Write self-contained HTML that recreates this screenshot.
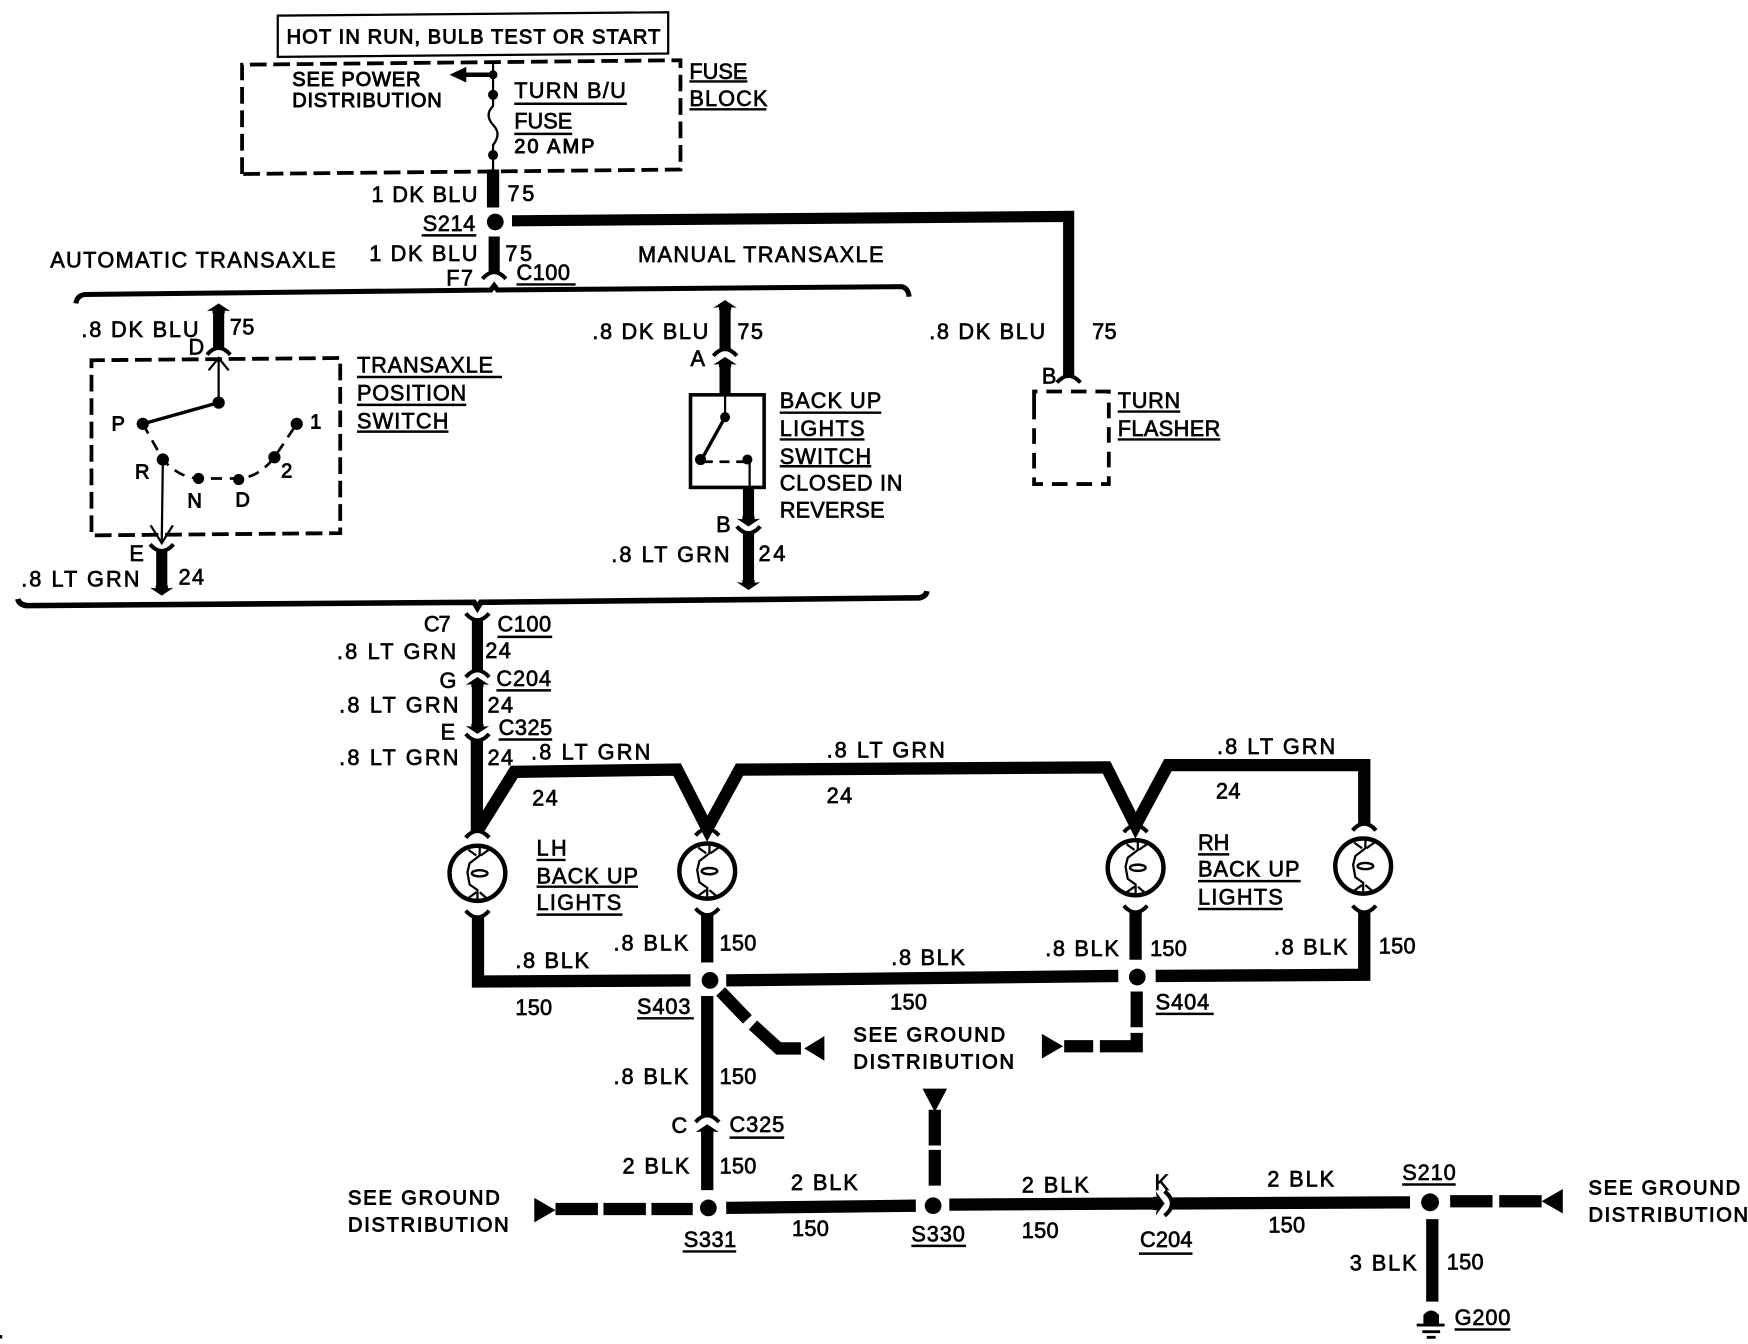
<!DOCTYPE html>
<html><head><meta charset="utf-8"><style>
html,body{margin:0;padding:0;background:#fff}
svg{display:block}
text{font-family:"Liberation Sans",sans-serif;font-size:19.5px;fill:#000;stroke:#000;stroke-width:.6px}
.s text,text.s{font-size:18px;stroke-width:.8px}
.w{fill:none;stroke:#000;stroke-width:11}
.t{fill:none;stroke:#000;stroke-width:2}
.d{fill:none;stroke:#000;stroke-width:3.4;stroke-dasharray:15 6}
.u{fill:none;stroke:#000;stroke-width:2.2}
.c{fill:none;stroke:#000;stroke-width:3.6}
</style></head><body>
<svg width="1748" height="1344" viewBox="0 0 1567 1205" preserveAspectRatio="none" xmlns="http://www.w3.org/2000/svg">
<defs>
<path id="au" class="c" d="M-10.5,5 Q0,-7 10.5,5"/>
<path id="ad" class="c" d="M-10.5,-5 Q0,7 10.5,-5"/>
<path id="hu" d="M0,0 L10.5,7 L5.5,6.5 V9 H-5.5 V6.5 L-10.5,7Z"/>
<path id="hd" d="M0,0 L10.5,-7 L5.5,-6.5 V-9 H-5.5 V-6.5 L-10.5,-7Z"/>
<g id="bulb"><ellipse rx="25" ry="24.7" fill="#fff" stroke="#000" stroke-width="4"/>
<path d="M2,-24 V-16 L-7,-9 L-9,-1 L-7,10 L0,15 V24 M-8,-21 L-1,-16 M10,-21 L3,-16 M-8,22 L-1,17 M9,23 L2,17" fill="none" stroke="#000" stroke-width="2"/>
<ellipse cx="2" cy="0" rx="7" ry="2.8" fill="#fff" stroke="#000" stroke-width="2.2"/></g>
</defs>

<rect x="0" y="1197" width="2" height="3"/>
<polygon points="249,14 599,11 599,48 249,51" fill="none" stroke="#000" stroke-width="2"/>
<text class="s" x="257" y="39" textLength="335">HOT IN RUN, BULB TEST OR START</text>

<polyline class="d" points="217,156 217,58 610,54 610,152 217,156"/>
<path class="t" d="M442,55 V95 Q434,103 442,112 Q450,120 442,130 V152"/>
<circle cx="442" cy="67" r="4"/><circle cx="442" cy="85" r="4.5"/><circle cx="442" cy="139" r="4.5"/>
<path d="M403,67 L418,60 V65 H442 V69 H418 V74Z"/>
<g class="s"><text x="262" y="77" textLength="115">SEE POWER</text><text x="262" y="96" textLength="134">DISTRIBUTION</text></g>
<text x="461" y="88" textLength="100">TURN B/U</text><path class="u" d="M461,93 H562"/>
<text x="461" y="115" textLength="52">FUSE</text><path class="u" d="M461,120 H513"/>
<text class="s" x="461" y="137" textLength="72">20 AMP</text>
<text x="618" y="71" textLength="52">FUSE</text><path class="u" d="M618,73 H670"/>
<text x="618" y="95" textLength="70">BLOCK</text><path class="u" d="M618,98 H687"/>

<path class="w" d="M442,152 V186"/>
<circle cx="444" cy="199" r="7.5"/>
<path class="w" style="stroke-width:10" d="M459,198 L958,194 V337"/>
<use href="#au" x="958" y="338"/>
<text x="333" y="181" textLength="95">1 DK BLU</text><text x="455" y="180" textLength="24">75</text>
<text x="379" y="207" textLength="47">S214</text><path class="u" d="M378,211 H427"/>
<text x="331" y="234" textLength="97">1 DK BLU</text><text x="453" y="234" textLength="24">75</text>
<path class="w" style="stroke-width:10" d="M443,212 V244"/>
<use href="#au" x="443" y="245"/>
<text x="400" y="256" textLength="24">F7</text>
<text x="463" y="251" textLength="48">C100</text><path class="u" d="M463,255 H516"/>
<text x="45" y="240" textLength="256">AUTOMATIC TRANSAXLE</text>
<text x="572" y="235" textLength="220">MANUAL TRANSAXLE</text>
<path d="M68,272 Q69,265 76,264 L440,260 L443,256 L446,260 L808,257 Q814,258 815,266" fill="none" stroke="#000" stroke-width="4.5"/>

<!-- automatic -->
<path class="w" style="stroke-width:10" d="M196,278 V313"/>
<use href="#hu" x="196" y="272"/>
<use href="#au" x="196" y="313"/>
<text x="73" y="302" textLength="105">.8 DK BLU</text><text x="206" y="300" textLength="22">75</text>
<text x="169" y="318">D</text>
<polyline class="d" points="82,326 82,323 305,321 305,478 82,480 82,326"/>
<path class="t" d="M196,322 V361 M187,332 L196,321 L205,332"/>
<circle cx="196" cy="361" r="5.5"/><path d="M196,361 L128,380" stroke="#000" stroke-width="3"/>
<circle cx="128" cy="380" r="5.5"/><circle cx="146" cy="412" r="5.5"/><circle cx="178" cy="429" r="5"/><circle cx="214" cy="430" r="5"/><circle cx="246" cy="410" r="5.5"/><circle cx="266" cy="380" r="5.5"/>
<path d="M128,380 L146,412 Q160,428 178,429 H214 Q232,428 246,410 L266,380" fill="none" stroke="#000" stroke-width="2.4" stroke-dasharray="10 7"/>
<path class="t" d="M146,412 L145,485 M135,471 L145,487 L155,471"/>
<g class="s"><text x="100" y="386">P</text><text x="278" y="384">1</text><text x="252" y="428">2</text><text x="121" y="429">R</text><text x="168" y="455">N</text><text x="211" y="454">D</text></g>
<text x="320" y="334" textLength="122">TRANSAXLE</text><path class="u" d="M320,338 H450"/>
<text x="320" y="359" textLength="98">POSITION</text><path class="u" d="M320,363 H418"/>
<text x="320" y="384" textLength="82">SWITCH</text><path class="u" d="M320,387 H402"/>
<use href="#ad" x="145" y="493"/>
<path class="w" style="stroke-width:10" d="M145,493 V527"/>
<use href="#hd" x="145" y="534"/>
<text x="116" y="503">E</text>
<text x="19" y="526" textLength="106">.8 LT GRN</text><text x="160" y="524" textLength="23">24</text>
<path d="M16,537 Q17,542 24,543 L425,540 L428,545 L431,540 L824,536 Q830,535 831,530" fill="none" stroke="#000" stroke-width="5"/>

<!-- manual -->
<path class="w" style="stroke-width:10" d="M650,275 V313"/>
<use href="#hu" x="650" y="269"/>
<use href="#au" x="650" y="314"/>
<use href="#hu" x="650" y="320"/>
<path class="w" style="stroke-width:10" d="M650,325 V354"/>
<text x="531" y="304" textLength="104">.8 DK BLU</text><text x="661" y="304" textLength="23">75</text>
<text x="619" y="328">A</text>
<rect x="619" y="354" width="66" height="83" fill="none" stroke="#000" stroke-width="3.2"/>
<path class="t" d="M650,354 V374 M672,415 V437"/>
<circle cx="650" cy="374" r="4.5"/><path d="M650,374 L630,410" stroke="#000" stroke-width="3"/>
<circle cx="628" cy="412" r="5"/><circle cx="670" cy="412" r="4.5"/>
<path d="M630,414 H668" stroke="#000" stroke-width="2.4" stroke-dasharray="9 6"/>
<path class="w" style="stroke-width:10" d="M671,437 V466"/>
<use href="#hd" x="671" y="472"/>
<use href="#ad" x="671" y="477"/>
<path class="w" style="stroke-width:10" d="M671,477 V523"/>
<use href="#hd" x="671" y="529"/>
<text x="642" y="477">B</text>
<text x="548" y="504" textLength="106">.8 LT GRN</text><text x="680" y="503" textLength="24">24</text>
<text x="699" y="366" textLength="91">BACK UP</text><path class="u" d="M699,370 H790"/>
<text x="699" y="391" textLength="76">LIGHTS</text><path class="u" d="M699,394 H775"/>
<text x="699" y="416" textLength="82">SWITCH</text><path class="u" d="M699,418 H781"/>
<text x="699" y="440" textLength="110">CLOSED IN</text>
<text x="699" y="464" textLength="94">REVERSE</text>

<!-- flasher -->
<text x="833" y="304" textLength="104">.8 DK BLU</text><text x="979" y="304" textLength="22">75</text>
<text x="934" y="344">B</text>
<polyline class="d" points="927,362 927,351 994,351 994,434 927,434 927,362" style="stroke-dasharray:14 8"/>
<text x="1002" y="366" textLength="56">TURN</text><path class="u" d="M1002,369 H1058"/>
<text x="1002" y="391" textLength="92">FLASHER</text><path class="u" d="M1002,394 H1094"/>

<!-- trunk -->
<use href="#ad" x="428" y="555"/>
<path class="w" style="stroke-width:10" d="M428,555 V601"/>
<text x="380" y="566" textLength="24">C7</text>
<text x="446" y="566" textLength="48">C100</text><path class="u" d="M446,571 H495"/>
<text x="302" y="591" textLength="107">.8 LT GRN</text><text x="435" y="590" textLength="23">24</text>
<use href="#au" x="428" y="602"/>
<use href="#hu" x="428" y="607"/>
<path class="w" style="stroke-width:10" d="M428,612 V652"/>
<use href="#hd" x="428" y="658"/>
<use href="#ad" x="428" y="663"/>
<text x="394" y="617">G</text>
<text x="445" y="615" textLength="49">C204</text><path class="u" d="M445,619 H494"/>
<text x="304" y="639" textLength="107">.8 LT GRN</text><text x="437" y="639" textLength="23">24</text>
<text x="395" y="663">E</text>
<text x="447" y="659" textLength="48">C325</text><path class="u" d="M447,663 H495"/>
<text x="304" y="686" textLength="107">.8 LT GRN</text><text x="437" y="686" textLength="23">24</text>
<path class="w" d="M427.5,663 V745"/>
<path class="w" d="M428,745 L461,692 L607,690 L634,743 L663,690 L992,688 L1018,740 L1047,686 H1223 V739" stroke-linejoin="miter"/>
<text x="476" y="681" textLength="107">.8 LT GRN</text><text x="477" y="722" textLength="23">24</text>
<text x="741" y="679" textLength="106">.8 LT GRN</text><text x="741" y="720" textLength="23">24</text>
<text x="1091" y="676" textLength="106">.8 LT GRN</text><text x="1090" y="716" textLength="22">24</text>

<!-- bulbs -->
<use href="#au" x="428" y="746"/><use href="#bulb" x="428" y="783"/><use href="#ad" x="428" y="821.5"/>
<use href="#au" x="634" y="744"/><use href="#bulb" x="634" y="781"/><use href="#ad" x="634" y="819.5"/>
<use href="#au" x="1018" y="741"/><use href="#bulb" x="1018" y="778"/><use href="#ad" x="1018" y="817"/>
<use href="#au" x="1223" y="739.5"/><use href="#bulb" x="1222" y="776.5"/><use href="#ad" x="1223" y="817"/>
<text x="481" y="767" textLength="27">LH</text><path class="u" d="M481,771 H507"/>
<text x="481" y="792" textLength="91">BACK UP</text><path class="u" d="M481,795 H572"/>
<text x="481" y="816" textLength="76">LIGHTS</text><path class="u" d="M481,820 H558"/>
<text x="1074" y="762" textLength="28">RH</text><path class="u" d="M1074,766 H1102"/>
<text x="1074" y="786" textLength="91">BACK UP</text><path class="u" d="M1074,790 H1166"/>
<text x="1074" y="811" textLength="76">LIGHTS</text><path class="u" d="M1074,815 H1150"/>

<!-- lower wires -->
<path class="w" d="M428.5,822 V880 L619,879"/>
<path class="w" d="M634,820 V863"/>
<circle cx="636.5" cy="879" r="7.5"/>
<path class="w" d="M651,879 L1002.5,875"/>
<path class="w" d="M1018,818 V860.5"/>
<circle cx="1019.5" cy="876" r="7.5"/>
<path class="w" d="M1036,875 L1223,874 V818"/>
<text x="462" y="868" textLength="66">.8 BLK</text><text x="462" y="910" textLength="33">150</text>
<text x="550" y="852" textLength="67">.8 BLK</text><text x="645" y="852" textLength="33">150</text>
<text x="799" y="865" textLength="66">.8 BLK</text><text x="798" y="905" textLength="33">150</text>
<text x="937" y="857" textLength="66">.8 BLK</text><text x="1031" y="857" textLength="33">150</text>
<text x="1142" y="856" textLength="66">.8 BLK</text><text x="1236" y="855" textLength="33">150</text>
<text x="571" y="909" textLength="48">S403</text><path class="u" d="M571,913 H622"/>
<text x="1036" y="905" textLength="48">S404</text><path class="u" d="M1036,909 H1088"/>

<path class="w" d="M646,889 L670,914 M675,919 L698,940 H718"/>
<polygon points="721,940 739,929 739,951"/>
<path class="w" d="M1019,889 V921 M1019,926 V938 H986 M980,938 H954"/>
<polygon points="953,938 934,927 934,949"/>
<g class="s"><text x="765" y="934" textLength="136">SEE GROUND</text><text x="765" y="958" textLength="144">DISTRIBUTION</text></g>

<path class="w" d="M634,893 V1000"/>
<text x="550" y="972" textLength="67">.8 BLK</text><text x="645" y="972" textLength="33">150</text>
<use href="#au" x="634" y="1001"/>
<use href="#hu" x="634" y="1008"/>
<path class="w" d="M634,1014 V1067"/>
<text x="602" y="1016">C</text>
<text x="654" y="1015" textLength="49">C325</text><path class="u" d="M654,1020 H703"/>
<text x="558" y="1052" textLength="60">2 BLK</text><text x="645" y="1052" textLength="33">150</text>
<circle cx="635" cy="1083" r="7.5"/>
<polygon points="479,1074 479,1096 498,1085"/>
<path class="w" d="M498,1084 H536 M541,1084 H579 M584,1084 H621"/>
<g class="s"><text x="312" y="1080" textLength="136">SEE GROUND</text><text x="312" y="1104" textLength="144">DISTRIBUTION</text></g>
<path class="w" d="M651,1083 L821,1081"/>
<circle cx="836.5" cy="1081" r="7.5"/>
<polygon points="827,976 849,976 838,997"/>
<path class="w" d="M838,995 V1027 M838,1031 V1063"/>
<text x="709" y="1067" textLength="60">2 BLK</text><text x="710" y="1108" textLength="33">150</text>
<text x="916" y="1069" textLength="60">2 BLK</text><text x="916" y="1110" textLength="33">150</text>
<text x="613" y="1118" textLength="47">S331</text><path class="u" d="M612,1122 H660"/>
<text x="817" y="1113" textLength="48">S330</text><path class="u" d="M817,1117 H866"/>
<path class="w" d="M851,1080 L1038,1079"/>
<path d="M1044,1079 L1036,1068 L1037,1073 H1034 V1085 H1037 L1036,1090Z"/>
<path class="c" d="M1044,1068 Q1057,1079 1044,1090"/>
<path class="w" d="M1051,1079 L1264,1078"/>
<text x="1035" y="1067">K</text>
<text x="1022" y="1118" textLength="47">C204</text><path class="u" d="M1021,1124 H1069"/>
<text x="1136" y="1064" textLength="60">2 BLK</text><text x="1137" y="1105" textLength="33">150</text>
<circle cx="1282" cy="1078" r="8"/>
<text x="1257" y="1058" textLength="48">S210</text><path class="u" d="M1257,1062 H1305"/>
<path class="w" d="M1300,1077 H1338 M1344,1077 H1382"/>
<polygon points="1382,1077 1401,1066 1401,1088"/>
<g class="s"><text x="1424" y="1071" textLength="136">SEE GROUND</text><text x="1424" y="1095" textLength="143">DISTRIBUTION</text></g>
<path class="w" d="M1284,1093 V1167"/>
<text x="1210" y="1139" textLength="60">3 BLK</text><text x="1297" y="1138" textLength="33">150</text>
<path d="M1276,1187 V1179 Q1283,1171 1290,1179 V1187Z"/>
<path d="M1270,1188 H1295 M1275,1194 H1291 M1279,1199 H1287" stroke="#000" stroke-width="2.6" fill="none"/>
<text x="1304" y="1188" textLength="50">G200</text><path class="u" d="M1304,1192 H1354"/>
</svg>
</body></html>
